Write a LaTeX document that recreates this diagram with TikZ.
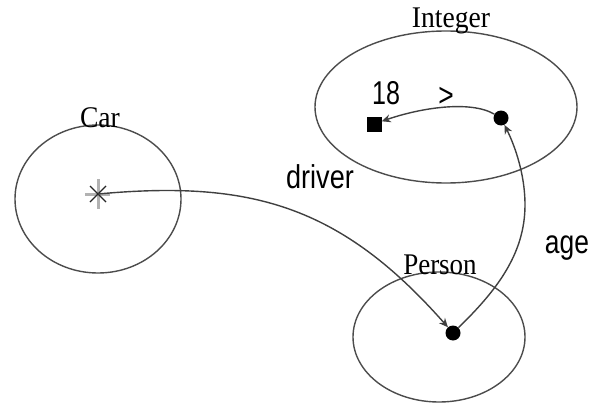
\documentclass[tikz,border=0pt]{standalone}
\usepackage{graphicx}
\usepackage{fontspec}
\setmainfont{Liberation Serif}
\newfontfamily\lsans{Liberation Sans}
\usetikzlibrary{shapes.geometric,arrows.meta}
\begin{document}
\begin{tikzpicture}[x=1pt,y=-1pt,
  cls/.style={ellipse, draw=black!70, line width=1.4pt, inner sep=0pt},
  conn/.style={draw=black!75, line width=1.4pt, -{Stealth[length=9pt,width=8pt]}},
  tname/.style={inner sep=0pt, font=\fontsize{30}{30}\selectfont},
  slabel/.style={inner sep=0pt, font=\lsans\fontsize{33}{33}\selectfont},
  dotnode/.style={circle, fill=black, inner sep=0pt, minimum size=12pt},
  sqnode/.style={rectangle, fill=black, inner sep=0pt, minimum size=15pt}]
\useasboundingbox (0,0) rectangle (592,404);

% classes
\node[cls, minimum width=166pt, minimum height=148pt] (car) at (98,199) {};
\node[cls, minimum width=262pt, minimum height=152pt] (integer) at (446,107) {};
\node[cls, minimum width=172pt, minimum height=130pt] (person) at (439,337) {};

% class names
\node[tname, anchor=base] (carlbl) at (100,127) {\scalebox{0.92}[1]{Car}};
\node[tname, anchor=base] (intlbl) at (451,28) {\scalebox{0.92}[1]{Integer}};
\node[tname, anchor=base] (perlbl) at (440,274) {\scalebox{0.9}[1]{Person}};

% instances
\coordinate (star) at (98,194);
\draw[black!30, line width=3pt] (98,179) -- (98,209) (85,194) -- (110,194);
\draw[black!85, line width=1.1pt] (90,186) -- (106,202) (90,202) -- (106,186);
\node[dotnode, minimum width=13pt, minimum height=15pt] (pd) at (453,333) {};
\node[dotnode, minimum width=12pt, minimum height=15pt] (id) at (501,118) {};
\node[sqnode] (sq) at (374,124) {};

% connectors
\draw[conn] (star) .. controls (250,180) and (340,205) .. (pd);
\draw[conn] (pd) .. controls (495,292) and (525,255) .. (525,205)
            .. controls (525,170) and (512,140) .. (id);
\draw[conn] (id) .. controls (470,100) and (420,108) .. (sq);

% labels
\node[slabel, anchor=base] (drv) at (320,188) {\scalebox{0.82}[1]{driver}};
\node[slabel, anchor=base] (agel) at (567,253) {\scalebox{0.8}[1]{age}};
\node[slabel, anchor=base] (eighteen) at (386,105) {\scalebox{0.76}[1]{18}};
\node[slabel] (gt) at (446,97) {\scalebox{0.8}[1]{>}};
\end{tikzpicture}
\end{document}
